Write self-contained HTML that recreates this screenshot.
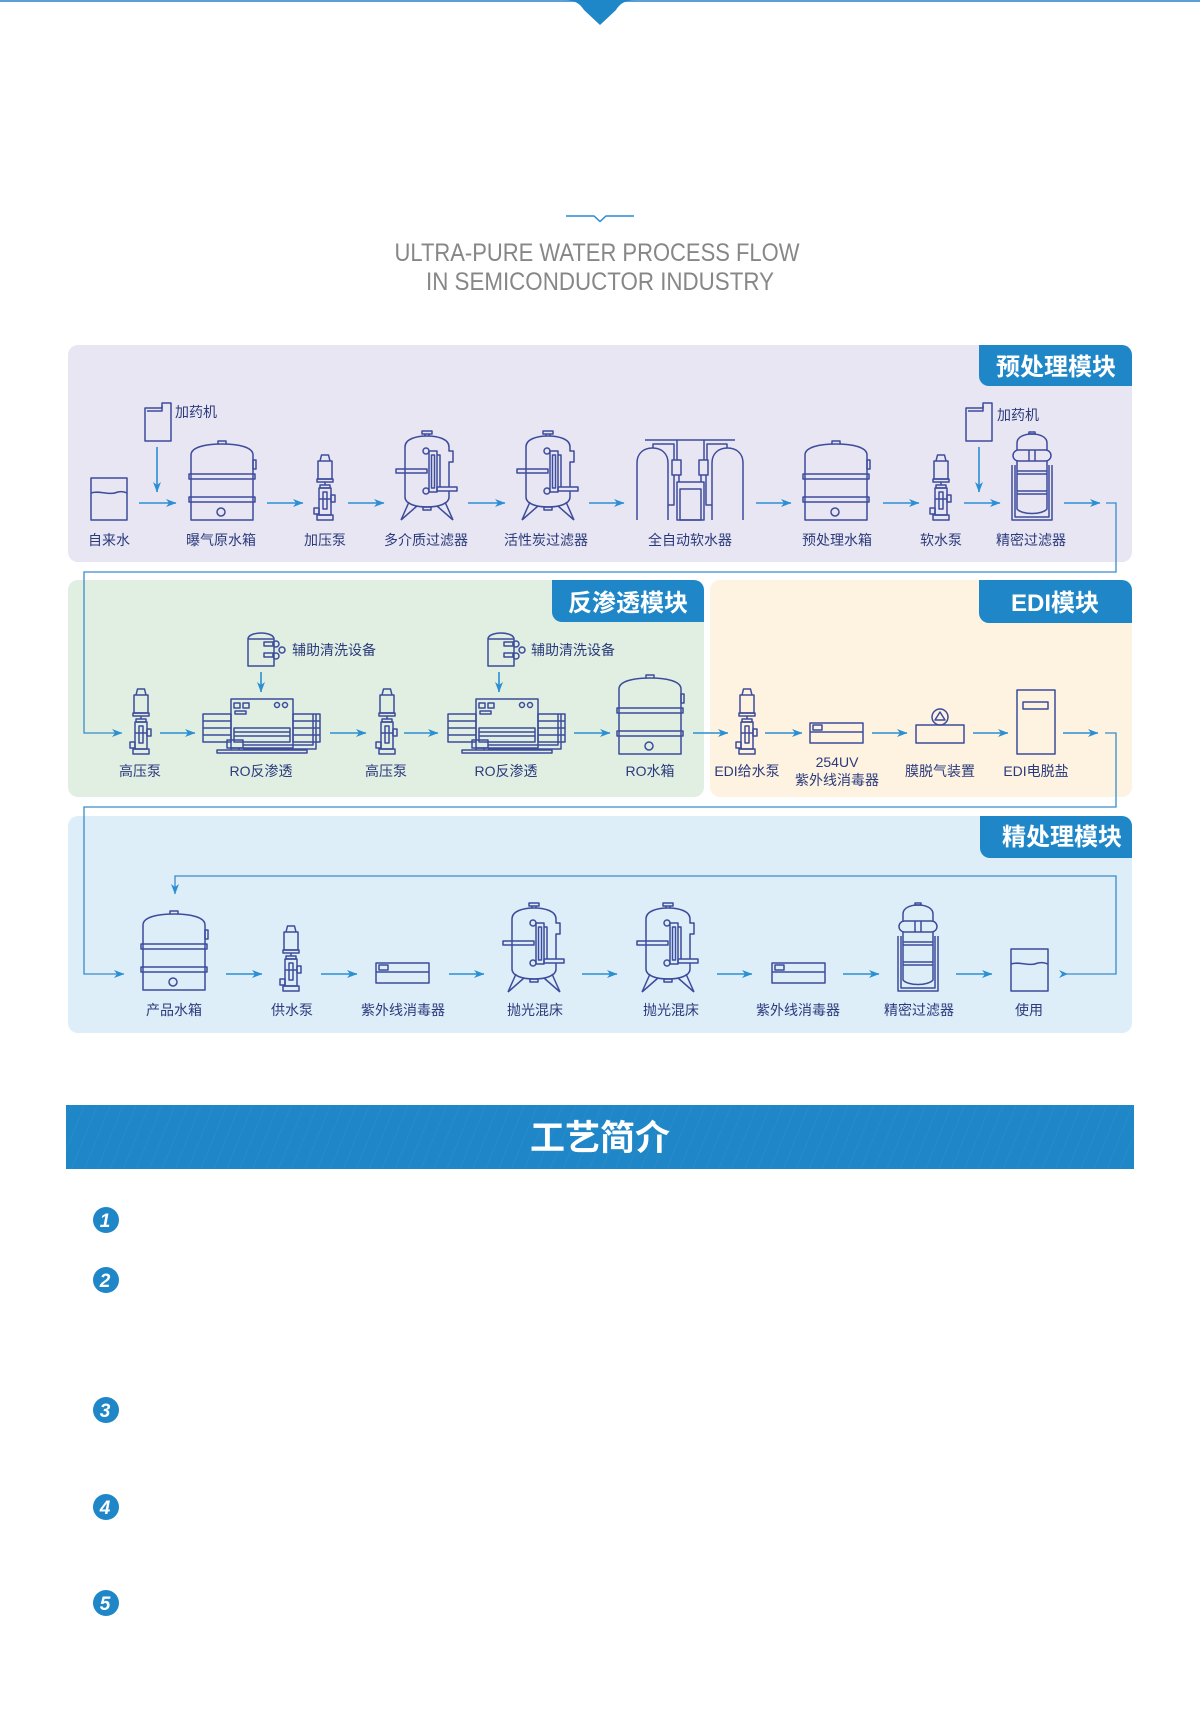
<!DOCTYPE html>
<html><head><meta charset="utf-8">
<style>
html,body{margin:0;padding:0;background:#fff;}
svg{display:block;}
.ic{fill:none;stroke:#3d4c9c;stroke-width:1.5;stroke-linejoin:round}
.lb{font-family:'Liberation Sans','Noto Sans CJK SC',sans-serif;font-size:14px;fill:#2b3a7c;text-anchor:middle}
.lbl{font-family:'Liberation Sans','Noto Sans CJK SC',sans-serif;font-size:14px;fill:#2b3a7c}
.tab{font-family:'Liberation Sans','Noto Sans CJK SC',sans-serif;font-size:24px;font-weight:bold;fill:#fff;text-anchor:middle}
.ar{stroke:#2a8fd3;stroke-width:1.6;fill:none}
.cn{stroke:#3a8bc9;stroke-width:1.3;fill:none}
.num{font-family:'Liberation Sans',sans-serif;font-size:19px;font-weight:bold;font-style:italic;fill:#fff;text-anchor:middle}
</style></head><body>
<svg width="1200" height="1713" viewBox="0 0 1200 1713" xmlns="http://www.w3.org/2000/svg">
<defs>
<marker id="ah" markerWidth="11" markerHeight="9" refX="10" refY="4.5" orient="auto" markerUnits="userSpaceOnUse"><path d="M0,0.5 L10.5,4.5 L0,8.5 L3,4.5 Z" fill="#2a8fd3"/></marker>
<pattern id="st" width="12" height="12" patternUnits="userSpaceOnUse" patternTransform="rotate(22)"><line x1="0" y1="0" x2="0" y2="12" stroke="#3a97d3" stroke-width="1"/></pattern>

<g id="pump" class="ic">
<path d="M6,7 L7.5,1 H14.5 L16,7"/>
<rect x="4" y="7" width="14" height="18"/>
<rect x="3" y="25" width="16" height="3"/>
<path d="M11,28 V31"/>
<rect x="6" y="31" width="10" height="3"/>
<rect x="5" y="34" width="12" height="27"/>
<rect x="9" y="38" width="4" height="17"/>
<path d="M5,45 H17"/>
<rect x="17" y="41" width="4" height="7"/>
<rect x="0" y="54" width="5" height="6"/>
<rect x="3" y="61" width="16" height="5"/>
</g>

<g id="tank" class="ic">
<path d="M29,3 V0 H37 V3"/>
<path d="M2,14 C2,6 17,3 33,3 C49,3 64,6 64,14"/>
<path d="M2,14 V79 H64 V14"/>
<rect x="0" y="33" width="66" height="5"/>
<rect x="0" y="56" width="66" height="5"/>
<rect x="64" y="19" width="3" height="9"/>
<circle cx="32" cy="71" r="4"/>
</g>

<g id="filt" class="ic">
<rect x="26" y="0" width="10" height="3"/>
<path d="M29,3 V5 M33,3 V5"/>
<path d="M9,16 C9,8 20,5 31,5 C42,5 53,8 53,16"/>
<path d="M9,16 V66 M53,16 V20 H57 V31 H53 V56 M53,60 V66"/>
<path d="M9,66 C9,73 20,76 31,76 C42,76 53,73 53,66"/>
<rect x="27" y="76" width="8" height="3"/>
<path d="M13,71 L5,89 M21,75 L5,89 M49,71 L57,89 M41,75 L57,89"/>
<path d="M0,38 H31 V42 H0 Z"/>
<rect x="33" y="20" width="8" height="41"/>
<rect x="35.5" y="24" width="3" height="33"/>
<circle cx="30" cy="20" r="3"/>
<circle cx="30" cy="60" r="3"/>
<path d="M41,24 H44 V56"/>
<rect x="41" y="56" width="20" height="4"/>
</g>

<g id="soft" class="ic">
<path d="M8,1 H98"/>
<path d="M0,81 V24 C0,14 7,9 15.5,9 C24,9 31,14 31,24 V81"/>
<path d="M75,81 V24 C75,14 82,9 90.5,9 C99,9 106,14 106,24 V81"/>
<path d="M16,9 V5 H37 V21"/>
<path d="M40,1 V21 M67,1 V21"/>
<path d="M70,21 V5 H90 V9"/>
<rect x="35" y="21" width="9" height="15"/>
<rect x="62" y="21" width="9" height="15"/>
<path d="M37,36 V66 H31 M69,36 V66 H75"/>
<path d="M42,36 V43 M64,36 V43"/>
<rect x="40" y="43" width="27" height="38"/>
<rect x="43" y="50" width="21" height="31"/>
</g>

<g id="pf" class="ic">
<rect x="17" y="0" width="6" height="2"/>
<path d="M5,18 V11 C5,5 12,2 20,2 C28,2 35,5 35,11 V18"/>
<rect x="1" y="18" width="38" height="11" rx="5.5"/>
<path d="M17,18 V29 M23,18 V29"/>
<path d="M0,33 V88 H40 V33"/>
<path d="M3,33 V85 H37 V33"/>
<path d="M5,29 V77 C10,83 30,83 35,77 V29"/>
<path d="M5,39 H35 M5,42 H35 M5,59 H35 M5,62 H35"/>
</g>

<g id="cln" class="ic">
<path d="M1,33 V6 C1,2 8,0 14,0 C20,0 27,2 27,6 V33 Z"/>
<path d="M1,6 H27"/>
<path d="M17,9 H26 V13 H17 Z M17,20 H26 V24 H17 Z"/>
<circle cx="29" cy="11" r="3"/>
<circle cx="35" cy="17" r="3"/>
<circle cx="29" cy="23" r="3"/>
</g>

<g id="ro" class="ic">
<rect x="28" y="0" width="62" height="49"/>
<rect x="31" y="4" width="6" height="5"/>
<rect x="40" y="4" width="6" height="5"/>
<rect x="32" y="12" width="11" height="3"/>
<circle cx="74" cy="6" r="2.5"/>
<circle cx="82" cy="6" r="2.5"/>
<rect x="0" y="15" width="28" height="28"/>
<path d="M0,22 H28 M0,29 H28 M0,36 H28"/>
<rect x="90" y="15" width="27" height="28"/>
<path d="M90,22 H117 M90,29 H117 M90,36 H117"/>
<path d="M110,15 V46 H40 M113,15 V50 H40"/>
<rect x="31" y="29" width="56" height="14"/>
<path d="M31,33 H87 M31,37 H87"/>
<rect x="24" y="41" width="16" height="8"/>
<rect x="14" y="51" width="90" height="3"/>
<path d="M28,49 V51 M36,49 V51 M80,49 V51"/>
</g>

<g id="dose" class="ic">
<path d="M0,38 V5 H17 V0 H26 V38 Z"/>
<path d="M2,8 H17 V3"/>
</g>

<g id="uv" class="ic">
<rect x="0" y="0" width="53" height="20"/>
<rect x="3" y="2" width="9" height="5"/>
<path d="M0,9 H53"/>
</g>
</defs>

<!-- header -->
<rect x="0" y="0" width="1200" height="2" fill="#5a9fd6"/>
<path d="M562,0 C576,0 580,4 584,10 L600,25 L616,10 C620,4 624,0 638,0 Z" fill="#1e87c8"/>
<path d="M566,216 H594 L600,221.5 L606,216 H634" stroke="#2a8ad0" stroke-width="1.5" fill="none"/>
<text x="597" y="261" font-family="'Liberation Sans',sans-serif" font-size="25" fill="#878787" text-anchor="middle" textLength="405" lengthAdjust="spacingAndGlyphs">ULTRA-PURE WATER PROCESS FLOW</text>
<text x="600" y="290" font-family="'Liberation Sans',sans-serif" font-size="25" fill="#878787" text-anchor="middle" textLength="348" lengthAdjust="spacingAndGlyphs">IN SEMICONDUCTOR INDUSTRY</text>

<!-- panels -->
<rect x="68" y="345" width="1064" height="217" rx="10" fill="#e8e6f2"/>
<rect x="68" y="580" width="636" height="217" rx="10" fill="#e1efe2"/>
<rect x="710" y="580" width="422" height="217" rx="10" fill="#fdf3e0"/>
<rect x="68" y="816" width="1064" height="217" rx="10" fill="#ddeef9"/>

<path d="M979,345 H1122 A10,10 0 0 1 1132,355 V386 H989 A10,10 0 0 1 979,376 Z" fill="#1f87c8"/>
<path d="M552,580 H694 A10,10 0 0 1 704,590 V622 H562 A10,10 0 0 1 552,612 Z" fill="#1f87c8"/>
<path d="M979,580 H1122 A10,10 0 0 1 1132,590 V623 H989 A10,10 0 0 1 979,613 Z" fill="#1f87c8"/>
<path d="M980,816 H1122 A10,10 0 0 1 1132,826 V858 H990 A10,10 0 0 1 980,848 Z" fill="#1f87c8"/>
<text class="tab" x="1056" y="375">预处理模块</text>
<text class="tab" x="628" y="611">反渗透模块</text>
<text class="tab" x="1055" y="611">EDI模块</text>
<text class="tab" x="1062" y="845">精处理模块</text>

<!-- row 1 icons -->
<g class="ic">
<rect x="91" y="478" width="36" height="42"/>
<path d="M91,493 C100,490 108,496 118,492 C122,491 125,492 127,493"/>
</g>
<use href="#dose" x="145" y="403"/>
<use href="#tank" x="189" y="441"/>
<use href="#pump" x="314" y="454"/>
<use href="#filt" x="396" y="431"/>
<use href="#filt" x="517" y="431"/>
<use href="#soft" x="637" y="439"/>
<use href="#tank" x="803" y="441"/>
<use href="#pump" x="930" y="454"/>
<use href="#dose" x="966" y="403"/>
<use href="#pf" x="1012" y="432"/>

<text class="lbl" x="175" y="417">加药机</text>
<text class="lbl" x="997" y="420">加药机</text>
<text class="lb" x="109" y="545">自来水</text>
<text class="lb" x="221" y="545">曝气原水箱</text>
<text class="lb" x="325" y="545">加压泵</text>
<text class="lb" x="426" y="545">多介质过滤器</text>
<text class="lb" x="546" y="545">活性炭过滤器</text>
<text class="lb" x="690" y="545">全自动软水器</text>
<text class="lb" x="837" y="545">预处理水箱</text>
<text class="lb" x="941" y="545">软水泵</text>
<text class="lb" x="1031" y="545">精密过滤器</text>

<!-- row 1 arrows -->
<g class="ar" marker-end="url(#ah)">
<line x1="139" y1="503" x2="176" y2="503" marker-end="url(#ah)"/>
<line x1="267" y1="503" x2="303" y2="503" marker-end="url(#ah)"/>
<line x1="348" y1="503" x2="384" y2="503" marker-end="url(#ah)"/>
<line x1="468" y1="503" x2="505" y2="503" marker-end="url(#ah)"/>
<line x1="589" y1="503" x2="624" y2="503" marker-end="url(#ah)"/>
<line x1="756" y1="503" x2="791" y2="503" marker-end="url(#ah)"/>
<line x1="883" y1="503" x2="919" y2="503" marker-end="url(#ah)"/>
<line x1="964" y1="503" x2="1000" y2="503" marker-end="url(#ah)"/>
<line x1="1064" y1="503" x2="1100" y2="503" marker-end="url(#ah)"/>
<line x1="157" y1="447" x2="157" y2="492" marker-end="url(#ah)"/>
<line x1="979" y1="447" x2="979" y2="492" marker-end="url(#ah)"/>
</g>

<!-- connector 1 -->
<polyline class="cn" points="1106,503 1116,503 1116,572 84,572 84,733 122,733" marker-end="url(#ah)"/>

<!-- row 2 icons -->
<use href="#pump" x="130" y="688"/>
<use href="#cln" x="247" y="633"/>
<use href="#ro" x="203" y="699"/>
<use href="#pump" x="376" y="688"/>
<use href="#cln" x="487" y="633"/>
<use href="#ro" x="448" y="699"/>
<use href="#tank" x="617" y="675"/>
<use href="#pump" x="736" y="688"/>
<use href="#uv" x="810" y="723"/>
<g class="ic">
<rect x="916" y="725" width="48" height="18"/>
<circle cx="940" cy="717" r="8"/>
<path d="M940,712 L945,720 H935 Z"/>
<rect x="1017" y="690" width="38" height="64"/>
<rect x="1023" y="702" width="25" height="7"/>
</g>

<text class="lbl" x="292" y="655">辅助清洗设备</text>
<text class="lbl" x="531" y="655">辅助清洗设备</text>
<text class="lb" x="140" y="776">高压泵</text>
<text class="lb" x="261" y="776">RO反渗透</text>
<text class="lb" x="386" y="776">高压泵</text>
<text class="lb" x="506" y="776">RO反渗透</text>
<text class="lb" x="650" y="776">RO水箱</text>
<text class="lb" x="747" y="776">EDI给水泵</text>
<text class="lb" x="837" y="767">254UV</text>
<text class="lb" x="837" y="785">紫外线消毒器</text>
<text class="lb" x="940" y="776">膜脱气装置</text>
<text class="lb" x="1036" y="776">EDI电脱盐</text>

<g class="ar">
<line x1="160" y1="733" x2="195" y2="733" marker-end="url(#ah)"/>
<line x1="330" y1="733" x2="366" y2="733" marker-end="url(#ah)"/>
<line x1="404" y1="733" x2="438" y2="733" marker-end="url(#ah)"/>
<line x1="574" y1="733" x2="610" y2="733" marker-end="url(#ah)"/>
<line x1="693" y1="733" x2="728" y2="733" marker-end="url(#ah)"/>
<line x1="765" y1="733" x2="802" y2="733" marker-end="url(#ah)"/>
<line x1="872" y1="733" x2="907" y2="733" marker-end="url(#ah)"/>
<line x1="973" y1="733" x2="1008" y2="733" marker-end="url(#ah)"/>
<line x1="1063" y1="733" x2="1098" y2="733" marker-end="url(#ah)"/>
<line x1="261" y1="672" x2="261" y2="692" marker-end="url(#ah)"/>
<line x1="499" y1="672" x2="499" y2="692" marker-end="url(#ah)"/>
</g>

<!-- connector 2 -->
<polyline class="cn" points="1105,733 1116,733 1116,807 84,807 84,974 124,974" marker-end="url(#ah)"/>

<!-- row 3 icons -->
<use href="#tank" x="141" y="911"/>
<use href="#pump" x="280" y="925"/>
<use href="#uv" x="376" y="963"/>
<use href="#filt" x="503" y="903"/>
<use href="#filt" x="637" y="903"/>
<use href="#uv" x="772" y="963"/>
<use href="#pf" x="898" y="903"/>
<g class="ic">
<rect x="1011" y="949" width="37" height="42"/>
<path d="M1011,964 C1020,961 1028,967 1038,963 C1042,962 1045,963 1048,964"/>
</g>

<text class="lb" x="174" y="1015">产品水箱</text>
<text class="lb" x="292" y="1015">供水泵</text>
<text class="lb" x="403" y="1015">紫外线消毒器</text>
<text class="lb" x="535" y="1015">抛光混床</text>
<text class="lb" x="671" y="1015">抛光混床</text>
<text class="lb" x="798" y="1015">紫外线消毒器</text>
<text class="lb" x="919" y="1015">精密过滤器</text>
<text class="lb" x="1029" y="1015">使用</text>

<g class="ar">
<line x1="226" y1="974" x2="262" y2="974" marker-end="url(#ah)"/>
<line x1="321" y1="974" x2="357" y2="974" marker-end="url(#ah)"/>
<line x1="449" y1="974" x2="484" y2="974" marker-end="url(#ah)"/>
<line x1="582" y1="974" x2="617" y2="974" marker-end="url(#ah)"/>
<line x1="717" y1="974" x2="752" y2="974" marker-end="url(#ah)"/>
<line x1="843" y1="974" x2="879" y2="974" marker-end="url(#ah)"/>
<line x1="956" y1="974" x2="992" y2="974" marker-end="url(#ah)"/>
</g>

<!-- return loop -->
<path d="M1059,970 L1068,974 L1059,978 L1062,974 Z" fill="#2a8fd3"/>
<polyline class="cn" points="1064,974 1116,974 1116,876 175,876 175,894" marker-end="url(#ah)"/>

<!-- banner -->
<rect x="66" y="1105" width="1068" height="64" fill="#1f86c7"/>
<rect x="66" y="1105" width="1068" height="64" fill="url(#st)" opacity="0.6"/>
<text x="600" y="1150" font-family="'Liberation Sans','Noto Sans CJK SC',sans-serif" font-size="35" font-weight="bold" fill="#fff" text-anchor="middle">工艺简介</text>

<!-- numbers -->
<circle cx="106" cy="1220" r="13" fill="#1f87c8"/><text class="num" x="105" y="1227">1</text>
<circle cx="106" cy="1280" r="13" fill="#1f87c8"/><text class="num" x="105" y="1287">2</text>
<circle cx="106" cy="1410" r="13" fill="#1f87c8"/><text class="num" x="105" y="1417">3</text>
<circle cx="106" cy="1507" r="13" fill="#1f87c8"/><text class="num" x="105" y="1514">4</text>
<circle cx="106" cy="1603" r="13" fill="#1f87c8"/><text class="num" x="105" y="1610">5</text>
</svg>
</body></html>
